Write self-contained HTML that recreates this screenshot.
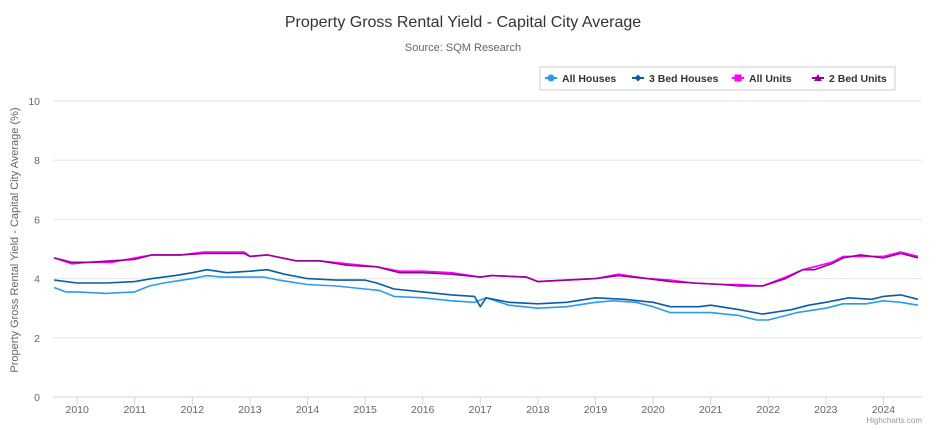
<!DOCTYPE html>
<html><head><meta charset="utf-8"><style>
body{margin:0;background:#fff;}
svg text{font-family:"Liberation Sans",sans-serif;}
</style></head><body>
<svg id="chart" width="940" height="425" xmlns="http://www.w3.org/2000/svg">
<text x="463" y="27" text-anchor="middle" font-size="16" fill="#333">Property Gross Rental Yield - Capital City Average</text>
<text x="463" y="51" text-anchor="middle" font-size="11" fill="#666">Source: SQM Research</text>
<g id="grid"></g>
<g id="series"></g>
<text transform="translate(18,240) rotate(-90)" text-anchor="middle" font-size="11" fill="#666">Property Gross Rental Yield - Capital City Average (%)</text>
<g>
<rect x="540" y="67" width="355" height="23" fill="#fff" stroke="#ccc"/>
<g><line x1="545" y1="78" x2="557" y2="78" stroke="#2b9bf0" stroke-width="2"/><circle cx="551" cy="78" r="3.5" fill="#2b9bf0"/><text x="562" y="82" font-size="10.5" font-weight="bold" fill="#333">All Houses</text></g>
<g><line x1="632" y1="78" x2="644" y2="78" stroke="#0d5aa7" stroke-width="2"/><path d="M638 74.5 L641.5 78 L638 81.5 L634.5 78Z" fill="#0d5aa7"/><text x="649" y="82" font-size="10.5" font-weight="bold" fill="#333">3 Bed Houses</text></g>
<g><line x1="732" y1="78" x2="744" y2="78" stroke="#ff00ff" stroke-width="2"/><rect x="734.5" y="74.5" width="7" height="7" fill="#ff00ff"/><text x="749" y="82" font-size="10.5" font-weight="bold" fill="#333">All Units</text></g>
<g><line x1="812" y1="78" x2="824" y2="78" stroke="#990099" stroke-width="2"/><path d="M818 74 L822 81 L814 81Z" fill="#990099"/><text x="829" y="82" font-size="10.5" font-weight="bold" fill="#333">2 Bed Units</text></g>
</g>
<text x="922" y="423" text-anchor="end" font-size="8" fill="#999">Highcharts.com</text>
</svg>
<script>
const yTicks=[0,2,4,6,8,10];
const xTicks=[2010,2011,2012,2013,2014,2015,2016,2017,2018,2019,2020,2021,2022,2023,2024];
const housesT=[2009.6,2009.8,2010,2010.5,2011,2011.25,2011.5,2012,2012.25,2012.5,2013,2013.25,2013.5,2014,2014.5,2015,2015.25,2015.5,2016,2016.5,2016.9,2017.1,2017.5,2018,2018.5,2019,2019.3,2019.7,2020,2020.3,2020.8,2021,2021.5,2021.8,2022,2022.5,2023,2023.3,2023.7,2024,2024.3,2024.6];
const allHouses=[3.7,3.55,3.55,3.5,3.55,3.75,3.85,4.0,4.1,4.05,4.05,4.05,3.95,3.8,3.75,3.65,3.6,3.4,3.35,3.25,3.2,3.35,3.1,3.0,3.05,3.2,3.25,3.2,3.05,2.85,2.85,2.85,2.75,2.6,2.6,2.85,3.0,3.15,3.15,3.25,3.2,3.1];
const bedT=[2009.6,2010,2010.5,2011,2011.3,2011.7,2012,2012.25,2012.6,2013,2013.3,2013.6,2014,2014.5,2015,2015.2,2015.5,2016,2016.5,2016.9,2017,2017.1,2017.5,2018,2018.5,2019,2019.5,2020,2020.3,2020.8,2021,2021.5,2021.9,2022.4,2022.7,2023,2023.4,2023.8,2024,2024.3,2024.6];
const bedHouses=[3.95,3.85,3.85,3.9,4.0,4.1,4.2,4.3,4.2,4.25,4.3,4.15,4.0,3.95,3.95,3.85,3.65,3.55,3.45,3.4,3.05,3.35,3.2,3.15,3.2,3.35,3.3,3.2,3.05,3.05,3.1,2.95,2.8,2.95,3.1,3.2,3.35,3.3,3.4,3.45,3.3];
const unitsT=[2009.6,2009.9,2010.2,2010.6,2011,2011.3,2011.8,2012.2,2012.9,2013.0,2013.3,2013.8,2014.2,2014.7,2015.2,2015.6,2016,2016.5,2017,2017.2,2017.8,2018,2018.5,2019,2019.4,2019.9,2020.3,2020.7,2021.2,2021.5,2021.9,2022.3,2022.6,2022.8,2023.1,2023.3,2023.6,2024,2024.3,2024.6];
const allUnits=[4.7,4.5,4.55,4.55,4.7,4.8,4.8,4.9,4.9,4.75,4.8,4.6,4.6,4.5,4.4,4.25,4.25,4.2,4.05,4.1,4.05,3.9,3.95,4.0,4.15,4.0,3.95,3.85,3.8,3.8,3.75,4.05,4.3,4.4,4.55,4.75,4.75,4.75,4.9,4.75];
const bedUnits=[4.7,4.55,4.55,4.6,4.65,4.8,4.8,4.85,4.85,4.75,4.8,4.6,4.6,4.45,4.4,4.2,4.2,4.15,4.05,4.1,4.05,3.9,3.95,4.0,4.1,4.0,3.9,3.85,3.8,3.75,3.75,4.0,4.3,4.3,4.5,4.7,4.8,4.7,4.85,4.7];
const X0=53,X1=922,T0=2009.58,T1=2024.67,Y0=397,Y1=101;
const xs=t=>X0+(t-T0)/(T1-T0)*(X1-X0);
const ys=v=>Y0-v/10*(Y0-Y1);
const NS="http://www.w3.org/2000/svg";
const grid=document.getElementById('grid'),ser=document.getElementById('series');
function mk(tag,attrs,parent){const e=document.createElementNS(NS,tag);for(const k in attrs)e.setAttribute(k,attrs[k]);parent.appendChild(e);return e;}
yTicks.forEach(v=>{
 const l=mk('line',{x1:X0,x2:X1,y1:ys(v),y2:ys(v),stroke:v===0?'#ccd6eb':'#e6e6e6','stroke-width':1},grid);
 
 
 const t=mk('text',{x:40,y:ys(v)+4,'text-anchor':'end','font-size':10.5,fill:'#666'},grid);
 t.textContent=v;
 
 
});
xTicks.forEach(yr=>{
 const x=xs(yr);
 const l=mk('line',{x1:x,x2:x,y1:Y0,y2:Y0+8,stroke:'#ccd6eb'},grid);
 
 
 const t=mk('text',{x:x,y:413,'text-anchor':'middle','font-size':10.5,fill:'#666'},grid);
 t.textContent=yr;
 
 
});
function line(ts,vals,color,name){
 const d=ts.map((t,i)=>(i?'L':'M')+xs(t).toFixed(1)+' '+ys(vals[i]).toFixed(1)).join(' ');
 const p=mk('path',{d:d,fill:'none',stroke:color,'stroke-width':1.6,'stroke-linejoin':'round'},ser);
 
 
}
line(housesT,allHouses,'#2b9bf0','all-houses-line');
line(bedT,bedHouses,'#0d5aa7','3-bed-houses-line');
line(unitsT,allUnits,'#ff00ff','all-units-line');
line(unitsT,bedUnits,'#990099','2-bed-units-line');
</script>
</body></html>
